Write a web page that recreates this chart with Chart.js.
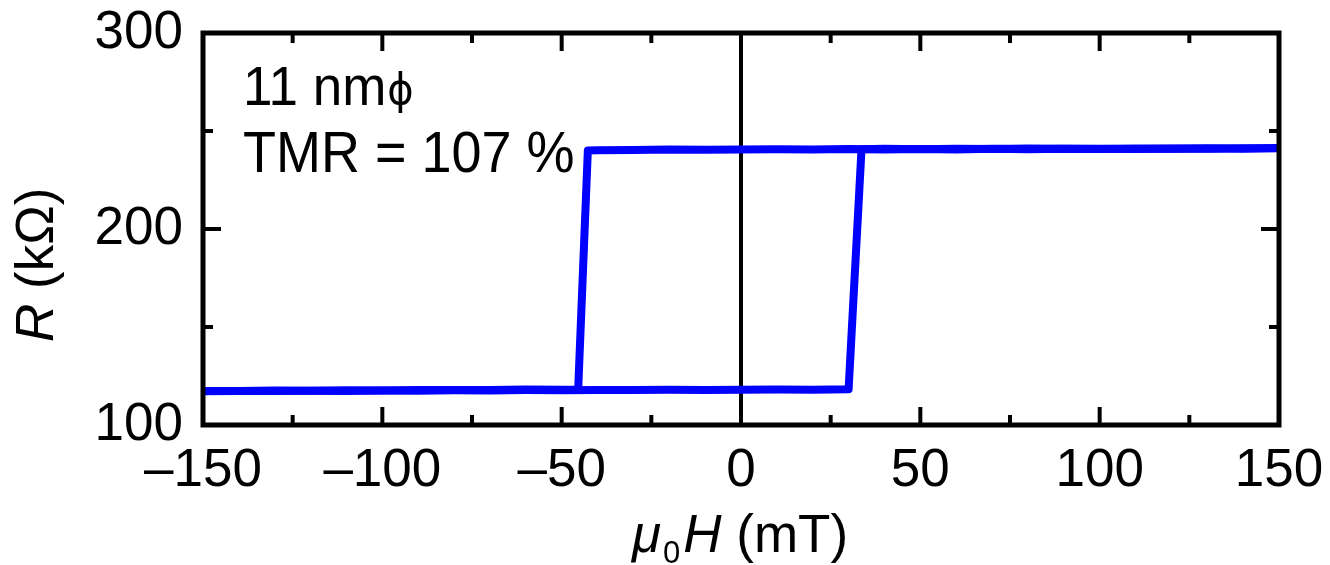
<!DOCTYPE html>
<html><head><meta charset="utf-8">
<script src="https://cdn.jsdelivr.net/npm/chart.js@4/dist/chart.umd.min.js"></script>
<style>html,body{margin:0;padding:0;background:#fff}#wrap{width:1330px;height:565px}</style>
</head><body><div id="wrap"><canvas id="c" width="1330" height="565"></canvas></div>
<script>
// ---- data ----
const downField = [150,140,130,120,110,100,90,80,70,60,50,40,30,20,10,0,-10,-20,-30,-40,-42.7,-45.4,-50,-60,-70,-80,-90,-100,-110,-120,-130,-140,-150];
const downR     = [241.3,241.0,241.2,240.9,241.1,240.8,241.0,240.7,240.9,240.6,240.8,240.6,240.8,240.5,240.7,240.6,240.4,240.6,240.3,240.2,240.1,118.1,118.0,118.1,117.9,117.8,117.9,117.6,117.7,117.5,117.6,117.4,117.3];
const upField   = [-150,-140,-130,-120,-110,-100,-90,-80,-70,-60,-50,-40,-30,-20,-10,0,10,20,30,33.6,40,50,60,70,80,90,100,110,120,130,140,150];
const upR       = [117.2,117.4,117.3,117.5,117.4,117.6,117.5,117.7,117.6,117.8,117.7,117.9,117.8,118.0,117.9,118.0,118.1,118.0,118.2,240.7,240.9,240.7,241.0,240.8,241.1,240.9,241.0,240.8,241.1,240.9,241.2,241.2];
const xTickValues = [-150,-100,-50,0,50,100,150];
const xMinorTicks = [-125,-75,-25,25,75,125];
const yTickValues = [100,200,300];
const yMinorTicks = [150,250];
const sizeLabel = '11 nm';
const sizeSymbol = '\u03D5';
const tmrLabel = 'TMR = 107 %';

const FONT = '"Liberation Sans", Arial, sans-serif';
const toPts = (xs, ys) => xs.map((x, i) => ({x: x, y: ys[i]}));

const framePlugin = {
  id: 'frame',
  beforeDatasetsDraw(chart) {
    const {ctx, chartArea: a, scales: {x}} = chart;
    ctx.save();
    ctx.strokeStyle = '#000'; ctx.lineWidth = 4;
    const zx = x.getPixelForValue(0);
    ctx.beginPath(); ctx.moveTo(zx, a.top); ctx.lineTo(zx, a.bottom); ctx.stroke();
    ctx.restore();
  },
  afterDatasetsDraw(chart) {
    const {ctx, chartArea: a, scales: {x, y}} = chart;
    ctx.save();
    ctx.strokeStyle = '#000';
    ctx.lineWidth = 4;
    ctx.lineCap = 'butt';
    const tick = (x1, y1, x2, y2) => { ctx.beginPath(); ctx.moveTo(x1, y1); ctx.lineTo(x2, y2); ctx.stroke(); };
    const MAJ = 18, MIN = 10;
    xTickValues.forEach(v => { const px = x.getPixelForValue(v); tick(px, a.bottom, px, a.bottom - MAJ); tick(px, a.top, px, a.top + MAJ); });
    xMinorTicks.forEach(v => { const px = x.getPixelForValue(v); tick(px, a.bottom, px, a.bottom - MIN); tick(px, a.top, px, a.top + MIN); });
    yTickValues.forEach(v => { const py = y.getPixelForValue(v); tick(a.left, py, a.left + MAJ, py); tick(a.right, py, a.right - MAJ, py); });
    yMinorTicks.forEach(v => { const py = y.getPixelForValue(v); tick(a.left, py, a.left + MIN, py); tick(a.right, py, a.right - MIN, py); });
    ctx.lineWidth = 5;
    ctx.strokeRect(a.left, a.top, a.right - a.left, a.bottom - a.top);

    // annotations (reference glyphs are slightly taller than wide)
    ctx.fillStyle = '#000';
    ctx.textBaseline = 'alphabetic';
    ctx.textAlign = 'left';
    const ax = a.left + 40;
    ctx.save();
    ctx.translate(ax, 105); ctx.scale(1, 1.06);
    ctx.font = '53px ' + FONT;
    ctx.fillText(sizeLabel, 0, 0);
    const w = ctx.measureText(sizeLabel).width;
    ctx.font = '40px "DejaVu Sans", ' + FONT;
    ctx.fillText(sizeSymbol, w + 1, -1);
    ctx.restore();
    ctx.save();
    ctx.translate(ax, 172); ctx.scale(1, 1.06);
    ctx.font = '54px ' + FONT;
    ctx.fillText(tmrLabel, 0, 0);
    ctx.restore();

    // x title: mu_0 H (mT)
    let cx = 632; const base = 552;
    ctx.font = 'italic 53px ' + FONT;
    ctx.fillText('\u03BC', cx, base); cx += ctx.measureText('\u03BC').width + 2;
    ctx.font = '31px ' + FONT;
    ctx.fillText('0', cx, base + 11); cx += ctx.measureText('0').width + 3;
    ctx.font = 'italic 53px ' + FONT;
    ctx.fillText('H', cx, base); cx += ctx.measureText('H').width;
    ctx.font = '53px ' + FONT;
    ctx.fillText(' (mT)', cx, base);

    // y title: R (kOmega)
    ctx.translate(53, 342);
    ctx.rotate(-Math.PI / 2);
    ctx.font = 'italic 53px ' + FONT;
    ctx.fillText('R', 0, 0);
    const rw = ctx.measureText('R').width;
    ctx.font = '53px ' + FONT;
    ctx.fillText(' (k\u03A9)', rw, 0);
    ctx.restore();
  }
};

new Chart(document.getElementById('c'), {
  type: 'scatter',
  data: {
    datasets: [
      {label: 'down', data: toPts(downField, downR), showLine: true, borderColor: '#0000ff', borderWidth: 8, pointRadius: 0, tension: 0, borderJoinStyle: 'round', borderCapStyle: 'round'},
      {label: 'up', data: toPts(upField, upR), showLine: true, borderColor: '#0000ff', borderWidth: 8, pointRadius: 0, tension: 0, borderJoinStyle: 'round', borderCapStyle: 'round'}
    ]
  },
  options: {
    responsive: false,
    animation: false,
    devicePixelRatio: 1,
    layout: {padding: {top: 33, right: 51, left: 0, bottom: 0}},
    plugins: {legend: {display: false}, tooltip: {enabled: false}},
    scales: {
      x: {
        type: 'linear', min: -150, max: 150,
        grid: {display: false, drawTicks: false},
        border: {display: false},
        afterFit(s) { s.height = 140; s.paddingLeft = 0; s.paddingRight = 0; },
        ticks: {
          stepSize: 50, autoSkip: false, maxRotation: 0, padding: 15, color: '#000',
          font: {family: FONT, size: 53},
          callback: v => (v < 0 ? '\u2013' + Math.abs(v) : String(v))
        }
      },
      y: {
        type: 'linear', min: 100, max: 300,
        grid: {display: false, drawTicks: false},
        border: {display: false},
        afterFit(s) { s.width = 203; s.paddingTop = 0; s.paddingBottom = 0; },
        ticks: {
          stepSize: 100, autoSkip: false, padding: 20, color: '#000',
          font: {family: FONT, size: 53},
          callback: v => String(v)
        }
      }
    }
  },
  plugins: [framePlugin]
});
</script></body></html>
